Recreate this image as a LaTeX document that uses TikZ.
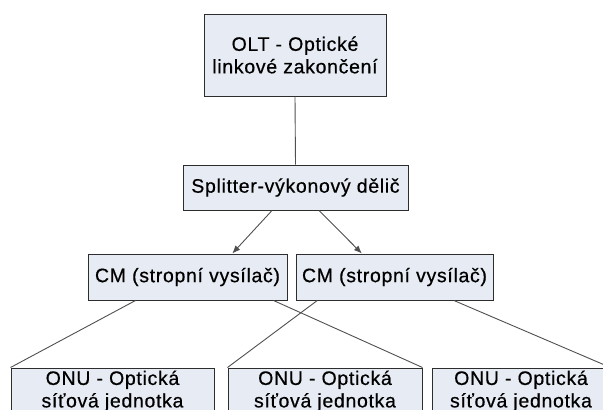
\documentclass[tikz,border=0pt]{standalone}
\usepackage{fontspec}
\setmainfont{Liberation Sans}[LetterSpace=3.5,FakeBold=0.5]
\usetikzlibrary{arrows.meta,calc}

\definecolor{boxfill}{RGB}{231,235,243}
\definecolor{boxline}{RGB}{45,45,45}
\definecolor{wire}{RGB}{80,80,80}

\tikzset{
  unitbox/.style={draw=boxline, fill=boxfill, line width=1pt, rectangle,
    inner sep=0pt, align=center, text=black,
    font=\fontsize{19.5}{22.5}\selectfont},
  link/.style={draw=wire, line width=0.9pt},
  feed/.style={link, -{Latex[length=8pt,width=6.5pt]}}
}

\begin{document}
\begin{tikzpicture}[x=1pt,y=-1pt]
  \fill[white] (0,0) rectangle (603,410);
  \useasboundingbox (0,0) rectangle (603,410);

  % top level: line terminal and splitter
  \node[unitbox, minimum width=182pt, minimum height=82pt] (olt) at (295,55)
    {OLT - Optické\\linkové zakončení};
  \node[unitbox, minimum width=225pt, minimum height=45pt] (split) at (295.5,187.5)
    {Splitter-výkonový dělič};

  % middle level: ceiling transmitters
  \node[unitbox, minimum width=199pt, minimum height=46pt] (cma) at (187.5,277)
    {CM (stropní vysílač)};
  \node[unitbox, minimum width=197pt, minimum height=46pt] (cmb) at (394.5,277)
    {CM (stropní vysílač)};

  % bottom level: network units
  \node[unitbox, minimum width=203pt, minimum height=46pt] (onua) at (112.5,391)
    {ONU - Optická\\síťová jednotka};
  \node[unitbox, minimum width=194pt, minimum height=46pt] (onub) at (325,391)
    {ONU - Optická\\síťová jednotka};
  \node[unitbox, minimum width=178pt, minimum height=46pt] (onuc) at (521,391)
    {ONU - Optická\\síťová jednotka};

  % connectors
  \draw[link] (olt.south) -- (split.north);

  \coordinate (sa) at ($(split.south west)!0.396!(split.south east)$);
  \coordinate (sb) at ($(split.south west)!0.604!(split.south east)$);
  \coordinate (ta) at ($(cma.north west)!0.724!(cma.north east)$);
  \coordinate (tb) at ($(cmb.north west)!0.335!(cmb.north east)$);
  \draw[feed] (sa) -- (ta);
  \draw[feed] (sb) -- (tb);

  \coordinate (ca1) at ($(cma.south west)!0.24!(cma.south east)$);
  \coordinate (ca2) at ($(cma.south west)!0.93!(cma.south east)$);
  \coordinate (cb1) at ($(cmb.south west)!0.11!(cmb.south east)$);
  \coordinate (cb2) at ($(cmb.south west)!0.80!(cmb.south east)$);
  \draw[link] (ca1) -- (onua.north west);
  \draw[link] (ca2) -- (onub.north east);
  \draw[link] (cb1) -- (onub.north west);
  \draw[link] (cb2) -- (onuc.north east);
\end{tikzpicture}
\end{document}
